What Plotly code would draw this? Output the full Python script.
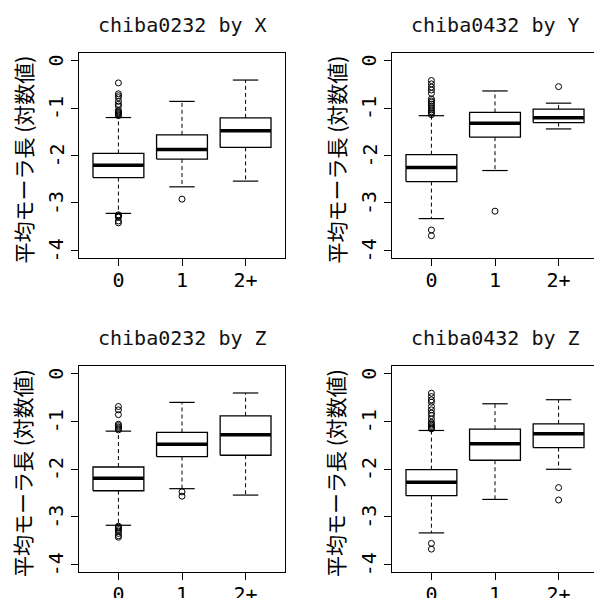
import plotly.graph_objects as go

# ---------------- data ----------------
categories = ["0", "1", "2+"]
panel_titles = ["chiba0232 by X", "chiba0432 by Y", "chiba0232 by Z", "chiba0432 by Z"]
y_label = "平均モーラ長 (対数値)"
y_tickvals = [-4, -3, -2, -1, 0]
y_ticktext = ["-4", "-3", "-2", "-1", "0"]

# five-number summaries per group: [lower whisker, Q1, median, Q3, upper whisker]
stats_A = [[-3.22, -2.465, -2.207, -1.956, -1.20],
           [-2.66, -2.075, -1.872, -1.565, -0.86],
           [-2.54, -1.83, -1.48, -1.208, -0.41]]
outliers_A = [[-0.47, -0.70, -0.74, -0.78, -0.86, -0.92, -0.96, -1.05, -1.08, -1.10, -1.12, -1.14, -1.16,
               -3.25, -3.27, -3.28, -3.30, -3.38, -3.42],
              [-2.92],
              []]

stats_B = [[-3.33, -2.55, -2.255, -1.983, -1.161],
           [-2.317, -1.614, -1.322, -1.092, -0.64],
           [-1.44, -1.307, -1.203, -1.022, -0.897]]
outliers_B = [[-0.42, -0.49, -0.56, -0.62, -0.69, -0.81, -0.85, -0.88, -0.92, -0.96, -1.00, -1.04, -1.08,
               -1.11, -1.14, -3.57, -3.69],
              [-3.173],
              [-0.549]]

stats_C = [[-3.18, -2.456, -2.196, -1.958, -1.206],
           [-2.413, -1.74, -1.48, -1.234, -0.603],
           [-2.547, -1.712, -1.284, -0.884, -0.406]]
outliers_C = [[-0.69, -0.76, -0.86, -1.06, -1.09, -1.12, -1.15, -1.18,
               -3.20, -3.22, -3.24, -3.27, -3.30, -3.35, -3.40, -3.43],
              [-2.48, -2.57],
              []]

stats_D = [[-3.34, -2.56, -2.28, -2.013, -1.192],
           [-2.638, -1.817, -1.473, -1.164, -0.632],
           [-2.006, -1.55, -1.263, -1.052, -0.547]]
outliers_D = [[-0.41, -0.48, -0.55, -0.60, -0.69, -0.76, -0.83, -0.88, -0.95, -1.02, -1.05, -1.08, -1.11,
               -1.14, -1.16, -3.56, -3.68],
              [],
              [-2.39, -2.65]]

panels = [(stats_A, outliers_A), (stats_B, outliers_B), (stats_C, outliers_C), (stats_D, outliers_D)]

# ---------------- style / layout ----------------
W, H = 594, 598
BOXWEX = 0.8
STAPLE = 0.4
LATIN = "DejaVu Sans Mono"
CJK = "Noto Sans CJK JP"
TICK_SIZE = 20

# panel frames in pixels (left, top, right, bottom)
frames = [(79, 53, 285, 258), (392, 53, 598, 258), (79, 366, 285, 572), (392, 366, 598, 572)]
XR = (0.38, 3.62)
YR = (-4.16, 0.16)

fig = go.Figure()
layout = dict(width=W, height=H, margin=dict(l=0, r=0, t=0, b=0),
              paper_bgcolor="white", plot_bgcolor="white", showlegend=False,
              annotations=[])

for p, (stats, outs) in enumerate(panels):
    sfx = "" if p == 0 else str(p + 1)
    xa, ya = "x" + sfx, "y" + sfx
    l, t, r, b = frames[p]
    xd1 = min(r, W)
    x_hi = XR[0] + (XR[1] - XR[0]) * (xd1 - l) / (r - l)
    right_panel = p in (1, 3)

    for i, s in enumerate(stats):
        xc = i + 1
        lo, q1, med, q3, hi = s
        hw = BOXWEX / 2
        # box
        fig.add_trace(go.Scatter(x=[xc - hw, xc + hw, xc + hw, xc - hw, xc - hw],
                                 y=[q1, q1, q3, q3, q1], mode="lines",
                                 line=dict(color="black", width=1.3), xaxis=xa, yaxis=ya,
                                 hoverinfo="skip"))
        # median
        fig.add_trace(go.Scatter(x=[xc - hw, xc + hw], y=[med, med], mode="lines",
                                 line=dict(color="black", width=3.5), xaxis=xa, yaxis=ya,
                                 hoverinfo="skip"))
        # whiskers (dashed)
        fig.add_trace(go.Scatter(x=[xc, xc, None, xc, xc], y=[q3, hi, None, q1, lo], mode="lines",
                                 line=dict(color="black", width=1, dash="4px,3px"),
                                 xaxis=xa, yaxis=ya, hoverinfo="skip"))
        # staples
        sw = STAPLE / 2
        fig.add_trace(go.Scatter(x=[xc - sw, xc + sw, None, xc - sw, xc + sw],
                                 y=[hi, hi, None, lo, lo], mode="lines",
                                 line=dict(color="black", width=1.2), xaxis=xa, yaxis=ya,
                                 hoverinfo="skip"))
        # outliers
        if outs[i]:
            fig.add_trace(go.Scatter(x=[xc] * len(outs[i]), y=outs[i], mode="markers",
                                     marker=dict(symbol="circle-open", size=6, color="black",
                                                 line=dict(width=1)),
                                     xaxis=xa, yaxis=ya, hoverinfo="skip"))

    layout["xaxis" + sfx] = dict(domain=[l / W, xd1 / W], range=[XR[0], x_hi], anchor=ya,
                                 tickvals=[1, 2, 3], ticktext=categories,
                                 ticks="outside", ticklen=7, tickwidth=1, tickcolor="black",
                                 ticklabelstandoff=-3,
                                 showline=True, linecolor="black", linewidth=1, mirror=True,
                                 showgrid=False, zeroline=False, automargin=False,
                                 tickfont=dict(family=LATIN, size=TICK_SIZE, color="black"))
    layout["yaxis" + sfx] = dict(domain=[1 - b / H, 1 - t / H], range=list(YR), anchor=xa,
                                 tickvals=y_tickvals, showticklabels=False,
                                 ticks="outside", ticklen=7, tickwidth=1, tickcolor="black",
                                 showline=True, linecolor="black", linewidth=1,
                                 mirror=not right_panel,
                                 showgrid=False, zeroline=False, automargin=False)
    # rotated y tick labels (R style, parallel to axis)
    for tv, tt in zip(y_tickvals, y_ticktext):
        layout["annotations"].append(dict(text=tt, x=(l - 23) / W, y=tv, xref="paper", yref=ya,
                                          showarrow=False, textangle=-90,
                                          xanchor="center", yanchor="middle",
                                          font=dict(family=LATIN, size=TICK_SIZE, color="black")))
    # title
    cx = (l + r) / 2 / W
    layout["annotations"].append(dict(text=panel_titles[p], x=cx, y=1 - (t - 28) / H,
                                      xref="paper", yref="paper", showarrow=False,
                                      xanchor="center", yanchor="middle",
                                      font=dict(family=LATIN, size=20, color="#111111")))
    # y label
    layout["annotations"].append(dict(text=y_label, x=(l - 57) / W, y=1 - ((t + b) / 2 + 4) / H,
                                      xref="paper", yref="paper", showarrow=False, textangle=-90,
                                      xanchor="center", yanchor="middle",
                                      font=dict(family=CJK, size=21, color="black")))

fig.update_layout(**layout)
fig.write_html("out.html")
